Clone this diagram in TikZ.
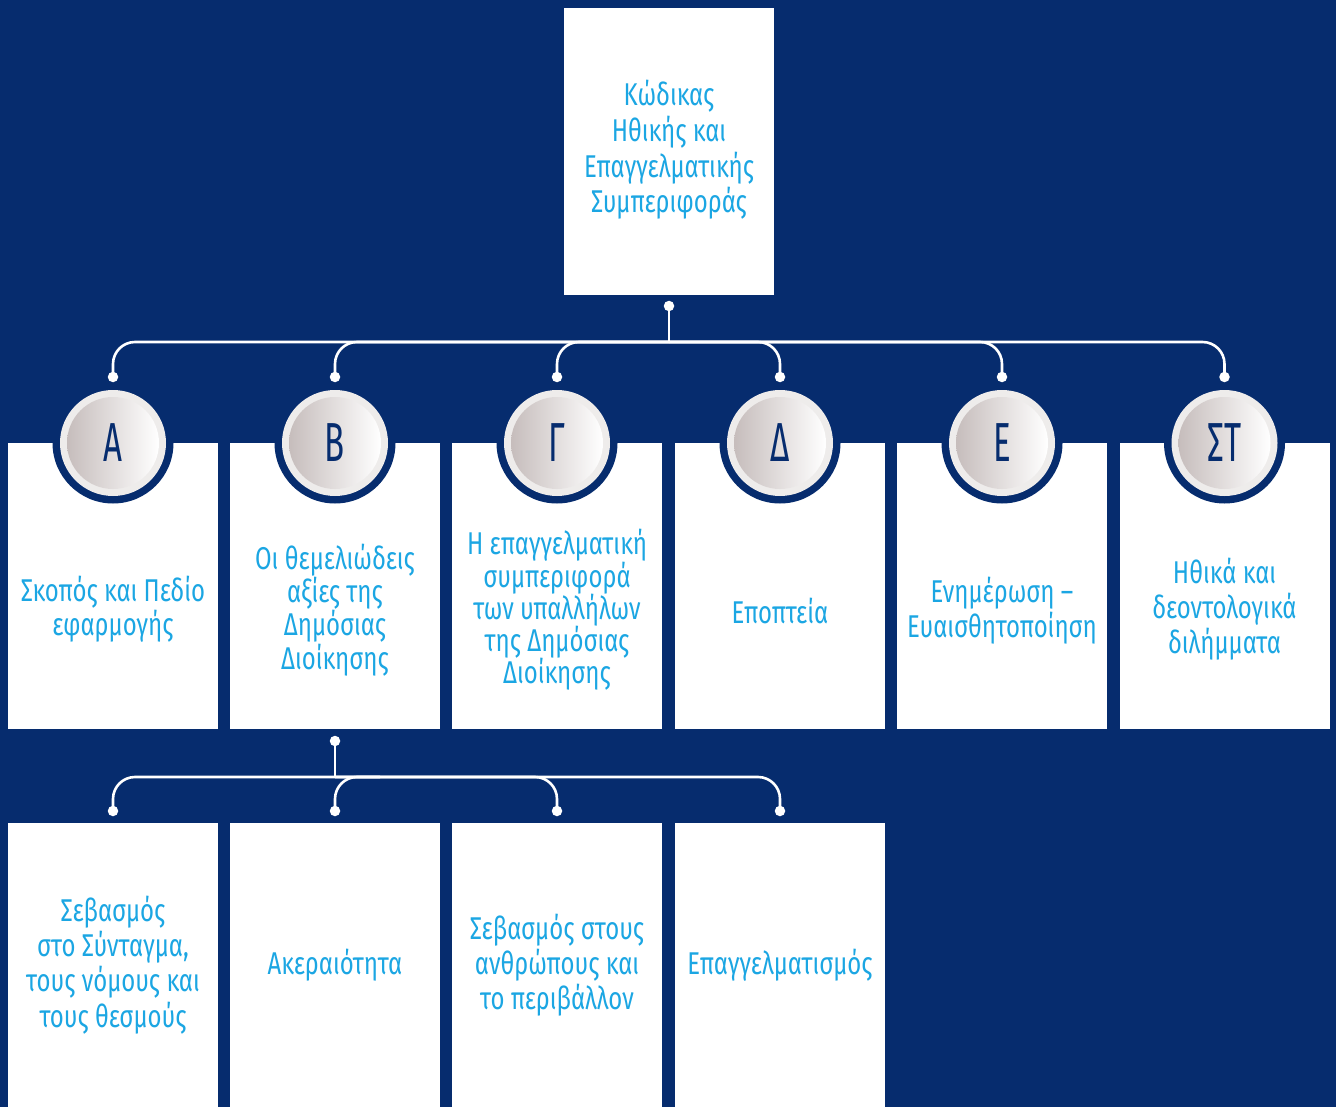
\documentclass[tikz,border=0pt]{standalone}
\usepackage{fontspec}
\setmainfont{Fira Sans}[FakeStretch=0.76]
\definecolor{navy}{HTML}{062C6E}
\definecolor{cyantext}{HTML}{1BA6E3}
\definecolor{ringgrey}{HTML}{EEECEB}
\definecolor{discgrey}{HTML}{C6BDBC}
\begin{document}
\begin{tikzpicture}[x=1pt,y=-1pt,
  tbox/.style={fill=white,draw=none,minimum width=210pt,inner sep=0pt,rectangle},
  txt/.style={text=cyantext,align=center,inner sep=0pt,font=\fontsize{31.5}{34.5}\selectfont},
  link/.style={draw=white,line width=2.6pt},
  dotc/.style={circle,fill=white,minimum size=10.5pt,inner sep=0pt},
  letter/.style={text=navy,inner sep=0pt,font=\addfontfeatures{FakeStretch=0.6}\fontsize{55}{55}\selectfont}
]
\fill[navy] (0,0) rectangle (1336,1107);
\useasboundingbox (0,0) rectangle (1336,1107);

% top box
\node[tbox,minimum height=287pt] (top) at (669,151.5) {};
\node[txt,font=\fontsize{31.5}{35.7}\selectfont] (ttop) at (669,150) {Κώδικας\\Ηθικής και\\Επαγγελματικής\\Συμπεριφοράς};

% row 1 boxes
\foreach \n/\x in {A/113,B/335,C/557,D/780,E/1002,F/1224.5}{
  \node[tbox,minimum height=286pt] (box\n) at (\x,586) {};
}
% row 2 boxes
\foreach \n/\x in {A/113,B/335,C/557,D/780}{
  \node[tbox,minimum height=286pt] (low\n) at (\x,966) {};
}

% circles
\foreach \n/\x/\l in {A/113/Α,B/335/Β,C/557/Γ,D/780/Δ,E/1002/Ε,F/1224.5/ΣΤ}{
  \coordinate (cc\n) at (\x,443);
  \fill[navy] (cc\n) circle[radius=60.5pt];
  \fill[ringgrey] (cc\n) circle[radius=53pt];
  \shade[left color=discgrey,right color=white] (cc\n) circle[radius=46pt];
  \node[letter] (let\n) at (\x,443) {\l};
}

% top-level connectors
\node[dotc] (hub) at (669,306) {};
\coordinate (bar) at (669,342);
\foreach \n/\x in {A/113,B/335,C/557,D/780,E/1002,F/1224.5}{
  \node[dotc] (d\n) at (\x,377) {};
}
\draw[link] (hub.center) -- (bar);
\foreach \n in {A,B,C,D,E,F}{
  \draw[link,rounded corners=22pt] (bar) -| (d\n.center);
}

% second-level connectors
\node[dotc] (hubb) at (335,741) {};
\coordinate (barb) at (335,777);
\coordinate (barbB) at (380,777);
\foreach \n/\x in {A/113,B/335,C/557,D/780}{
  \node[dotc] (e\n) at (\x,811) {};
}
\draw[link] (hubb.center) -- (barb);
\draw[link,rounded corners=22pt] (barb) -| (eA.center);
\draw[link,rounded corners=22pt] (barbB) -| (eB.center);
\draw[link,rounded corners=22pt] (barb) -| (eC.center);
\draw[link,rounded corners=22pt] (barb) -| (eD.center);

% row 1 texts
\node[txt] (tA) at (113,609) {Σκοπός και Πεδίο\\εφαρμογής};
\node[txt,font=\fontsize{31.5}{33.3}\selectfont] (tB) at (335,610) {Οι θεμελιώδεις\\αξίες της\\Δημόσιας\\Διοίκησης};
\node[txt,font=\fontsize{31.5}{32.3}\selectfont] (tC) at (557,610) {Η επαγγελματική\\συμπεριφορά\\των υπαλλήλων\\της Δημόσιας\\Διοίκησης};
\node[txt] (tD) at (780,611) {Εποπτεία};
\node[txt,font=\fontsize{31.5}{35}\selectfont] (tE) at (1002,611) {Ενημέρωση –\\Ευαισθητοποίηση};
\node[txt,font=\fontsize{31.5}{35}\selectfont] (tF) at (1224.5,609) {Ηθικά και\\δεοντολογικά\\διλήμματα};

% row 2 texts
\node[txt,font=\fontsize{31.5}{35.3}\selectfont] (uA) at (113,965) {Σεβασμός\\στο Σύνταγμα,\\τους νόμους και\\τους θεσμούς};
\node[txt] (uB) at (335,965) {Ακεραιότητα};
\node[txt,font=\fontsize{31.5}{35}\selectfont] (uC) at (557,965) {Σεβασμός στους\\ανθρώπους και\\το περιβάλλον};
\node[txt] (uD) at (780,965) {Επαγγελματισμός};
\end{tikzpicture}
\end{document}
